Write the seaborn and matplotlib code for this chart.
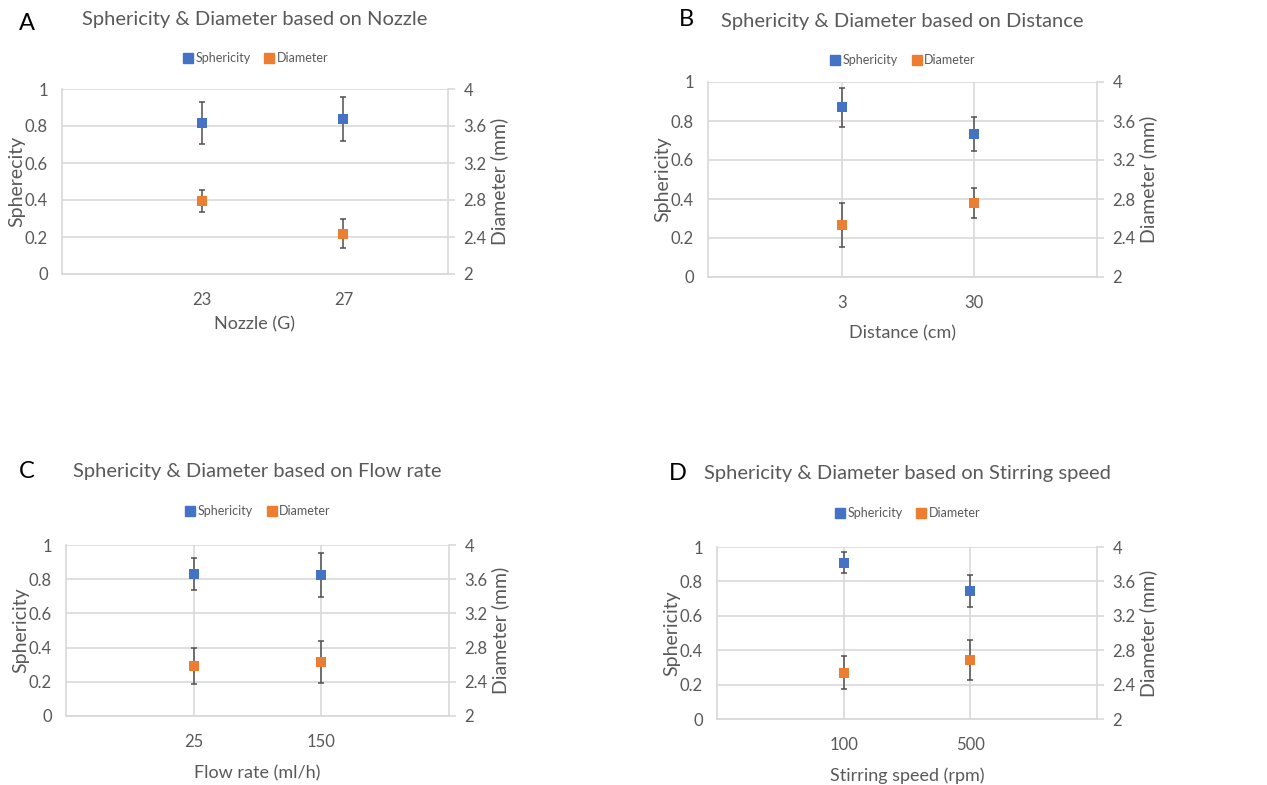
import matplotlib
matplotlib.use("Agg")
import matplotlib.pyplot as plt
import seaborn as sns
import pandas as pd
from matplotlib.lines import Line2D

# Panel data
panel_letters = ["A", "B", "C", "D"]
factors = ["Nozzle", "Distance", "Flow rate", "Stirring speed"]
x_labels = ["Nozzle (G)", "Distance (cm)", "Flow rate (ml/h)", "Stirring speed (rpm)"]
y_labels = ["Spherecity", "Sphericity", "Sphericity", "Sphericity"]
categories = [["23", "27"], ["3", "30"], ["25", "150"], ["100", "500"]]
sphericity = [[0.816, 0.838], [0.870, 0.733], [0.831, 0.823], [0.909, 0.745]]
sphericity_err = [[0.113, 0.117], [0.100, 0.087], [0.095, 0.130], [0.062, 0.093]]
diameter = [[2.790, 2.436], [2.533, 2.759], [2.584, 2.630], [2.537, 2.685]]
diameter_err = [[0.120, 0.160], [0.225, 0.150], [0.210, 0.245], [0.190, 0.235]]

BLUE = "#4472C4"
ORANGE = "#ED7D31"
TEXT = "#595959"
GRID = "#D9D9D9"
ERR = "#505050"

sns.set_theme(style="white")
plt.rcParams["font.family"] = ["Lato", "DejaVu Sans"]

W, H = 1267, 785
fig = plt.figure(figsize=(W / 100, H / 100), dpi=100)

# pixel boxes of each plot area: left, top, right, bottom
boxes = [(62, 89, 448, 274), (708, 82, 1097, 277), (66, 545, 449, 716), (717, 547, 1097, 719)]
xlims = [(-0.99, 1.74), (-1.01, 1.93), (-1.0, 2.0), (-1.0, 2.0)]
title_y = [20, 21, 472, 474]
legend_y = [58, 60, 511, 513]
letter_xy = [(27, 24), (686, 20), (27, 471), (678, 473)]
xlabel_pad = [6, 10, 11, 10]
vgrid = [False, True, True, True]

for i in range(4):
    l, t, r, b = boxes[i]
    ax = fig.add_axes([l / W, 1 - b / H, (r - l) / W, (b - t) / H])
    ax2 = ax.twinx()

    df = pd.DataFrame({"cat": categories[i], "sph": sphericity[i], "dia": diameter[i]})

    ax.errorbar(range(2), sphericity[i], yerr=sphericity_err[i], fmt="none",
                ecolor=ERR, elinewidth=1.1, capsize=2.5, capthick=1.1, zorder=2)
    sns.scatterplot(data=df, x=range(2), y="sph", ax=ax, marker="s", s=55,
                    color=BLUE, edgecolor=BLUE, linewidth=0, zorder=3)
    ax2.errorbar(range(2), diameter[i], yerr=diameter_err[i], fmt="none",
                 ecolor=ERR, elinewidth=1.1, capsize=2.5, capthick=1.1, zorder=2)
    sns.scatterplot(data=df, x=range(2), y="dia", ax=ax2, marker="s", s=55,
                    color=ORANGE, edgecolor=ORANGE, linewidth=0, zorder=3)

    ax.set_xlim(*xlims[i])
    ax.set_xticks(range(2))
    ax.set_xticklabels(categories[i])
    ax.set_ylim(0, 1)
    ax.set_yticks([0, 0.2, 0.4, 0.6, 0.8, 1])
    ax.set_yticklabels(["0", "0.2", "0.4", "0.6", "0.8", "1"])
    ax2.set_ylim(2, 4)
    ax2.set_yticks([2, 2.4, 2.8, 3.2, 3.6, 4])
    ax2.set_yticklabels(["2", "2.4", "2.8", "3.2", "3.6", "4"])

    ax.grid(axis="y", color=GRID, linewidth=1.2)
    if vgrid[i]:
        ax.grid(axis="x", color=GRID, linewidth=1.2)
    ax.set_axisbelow(True)
    ax2.grid(False)

    for a in (ax, ax2):
        for s in a.spines.values():
            s.set_visible(False)
        a.set_facecolor("none")
    ax.spines["left"].set_visible(True)
    ax.spines["left"].set_color(GRID)
    ax.spines["bottom"].set_visible(True)
    ax.spines["bottom"].set_color(GRID)
    ax.spines["bottom"].set_linewidth(1.3)
    ax2.spines["right"].set_visible(True)
    ax2.spines["right"].set_color(GRID)
    ax2.spines["right"].set_linewidth(1.2)

    ax.tick_params(axis="both", length=0, labelsize=12, labelcolor=TEXT)
    ax.tick_params(axis="x", pad=13)
    ax.tick_params(axis="y", pad=10)
    ax2.tick_params(axis="y", length=5, width=1.2, color=GRID, labelsize=12,
                    labelcolor=TEXT, pad=6)

    ax.set_xlabel(x_labels[i], fontsize=13, color=TEXT, labelpad=xlabel_pad[i])
    ax.set_ylabel(y_labels[i], fontsize=14, color=TEXT, labelpad=0)
    ax2.set_ylabel("Diameter (mm)", fontsize=14, color=TEXT, labelpad=3)

    cx = (l + r) / 2 / W
    fig.text(cx, 1 - title_y[i] / H, f"Sphericity & Diameter based on {factors[i]}",
             ha="center", va="center", fontsize=14.5, color=TEXT)
    fig.text(letter_xy[i][0] / W, 1 - letter_xy[i][1] / H, panel_letters[i],
             ha="center", va="center", fontsize=17, color="black")

    handles = [Line2D([], [], marker="s", linestyle="none", color=BLUE, markersize=7),
               Line2D([], [], marker="s", linestyle="none", color=ORANGE, markersize=7)]
    fig.legend(handles, ["Sphericity", "Diameter"], loc="center",
               bbox_to_anchor=(cx, 1 - legend_y[i] / H), ncol=2, frameon=False,
               fontsize=9, labelcolor=TEXT, handletextpad=0.1, columnspacing=1.0,
               handlelength=1.0)

fig.savefig("out.png", dpi=100)
